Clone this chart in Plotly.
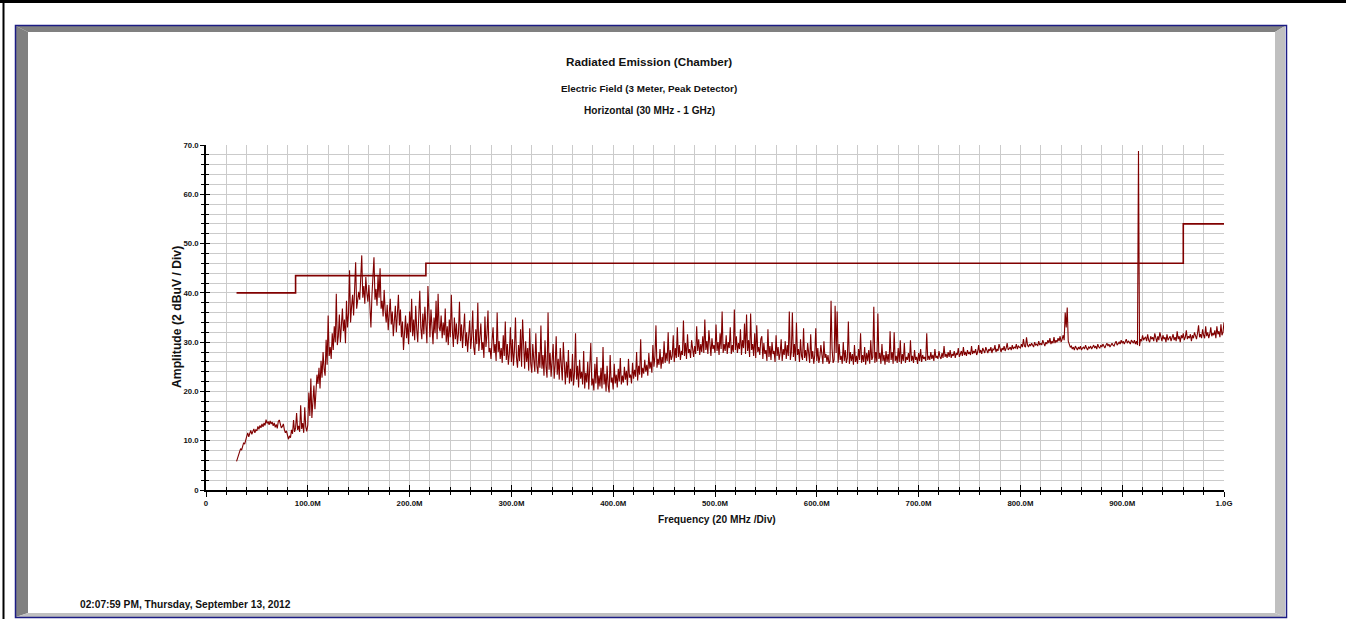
import plotly.graph_objects as go

# ---------------------------------------------------------------------------
# Data
# ---------------------------------------------------------------------------
# Peak-detector sweep, 30 MHz .. 1000 MHz in 1 MHz steps (dBuV/m), 20 MHz per row
sweep_start_mhz = 30
sweep_step_mhz = 1
sweep_level = [
    5.8, 6.6, 7.0, 7.9, 8.4, 8.1, 9.2, 9.6, 9.3, 10.4, 10.9, 11.6, 10.8, 11.5, 12.1, 11.3, 11.8, 12.4, 11.6, 12.2,
    12.0, 12.9, 12.3, 13.1, 12.6, 13.4, 12.8, 13.6, 13.1, 14.3, 13.5, 13.9, 13.2, 14.0, 13.4, 13.8, 13.0, 13.6, 12.7, 13.3,
    12.5, 13.9, 14.2, 13.0, 12.6, 12.9, 13.4, 12.2, 11.6, 12.0, 10.9, 10.3, 11.0, 10.6, 12.2, 11.4, 14.2, 11.8, 12.6, 15.6,
    12.2, 13.0, 11.8, 17.2, 12.4, 13.6, 11.6, 16.8, 12.8, 11.9, 13.2, 19.8, 15.0, 22.6, 14.6, 18.5, 21.2, 16.4, 20.0, 23.4,
    21.5, 24.8, 20.6, 26.2, 22.8, 28.0, 24.6, 23.2, 30.5, 25.4, 35.4, 27.2, 29.0, 26.6, 31.8, 28.4, 33.2, 30.0, 39.8, 29.4,
    31.2, 35.6, 30.0, 33.4, 36.8, 32.2, 34.6, 29.8, 38.4, 33.0, 35.8, 44.6, 34.0, 37.2, 39.6, 35.4, 41.8, 46.2, 36.8, 39.0,
    40.2, 38.6, 42.0, 47.6, 39.0, 41.4, 37.8, 43.2, 40.0, 38.2, 41.6, 36.0, 33.0, 39.4, 42.4, 47.2, 38.6, 40.8, 37.4, 43.6,
    39.0, 45.0, 36.8, 38.4, 35.2, 40.6, 36.4, 34.0, 37.6, 32.4, 35.8, 38.8, 33.6, 36.2, 31.2, 34.8, 37.4, 32.0, 35.0, 39.6,
    33.4, 36.6, 31.0, 34.2, 28.4, 32.6, 35.4, 30.8, 33.8, 29.6, 36.2, 32.0, 38.8, 31.2, 34.6, 30.4, 37.4, 32.6, 30.0, 35.2,
    40.4, 33.0, 30.6, 35.8, 31.6, 37.2, 33.4, 29.8, 41.4, 34.2, 31.0, 36.6, 32.4, 29.6, 35.0, 31.8, 38.4, 30.6, 39.8, 33.0,
    32.2, 35.4, 30.8, 34.0, 31.4, 36.8, 30.0, 33.2, 29.4, 34.6, 31.0, 39.6, 32.4, 29.0, 35.0, 30.6, 33.8, 29.6, 31.8, 38.2,
    30.2, 33.6, 28.8, 31.4, 35.8, 29.2, 32.0, 28.0, 30.8, 34.4, 28.6, 31.2, 36.4, 29.0, 27.4, 32.6, 29.6, 38.0, 28.2, 30.4,
    33.8, 28.4, 30.0, 26.8, 35.2, 29.0, 31.6, 36.4, 28.0, 28.8, 26.6, 30.4, 33.0, 27.8, 29.6, 26.2, 36.0, 28.0, 30.2, 26.6,
    28.8, 25.8, 31.4, 27.2, 34.2, 26.4, 29.6, 25.4, 27.8, 33.0, 26.0, 30.6, 25.2, 28.4, 35.0, 26.8, 24.8, 29.4, 26.2, 32.6,
    25.0, 34.6, 27.6, 24.6, 30.2, 26.0, 28.8, 24.2, 32.8, 25.6, 23.8, 29.6, 26.4, 24.0, 31.8, 25.2, 23.6, 28.0, 24.8, 33.4,
    24.6, 27.4, 23.2, 30.4, 25.0, 22.8, 36.0, 24.4, 27.8, 23.0, 26.2, 29.6, 22.6, 25.4, 31.2, 23.4, 26.6, 22.4, 28.8, 24.0,
    22.2, 30.0, 23.6, 21.4, 26.0, 22.8, 28.4, 21.6, 24.6, 22.0, 27.6, 21.2, 23.8, 31.8, 22.4, 25.2, 20.8, 26.4, 22.6, 24.0,
    21.4, 28.2, 20.6, 23.8, 21.8, 26.0, 20.4, 24.4, 29.8, 21.2, 22.6, 20.2, 25.6, 21.6, 27.0, 20.4, 23.2, 21.0, 24.8, 20.6,
    29.0, 21.4, 23.6, 20.0, 25.2, 21.2, 19.8, 27.4, 21.8, 22.8, 20.4, 25.6, 21.6, 23.4, 20.8, 24.6, 22.0, 26.8, 21.4, 23.2,
    21.8, 25.0, 22.4, 24.2, 21.2, 26.6, 22.8, 23.4, 21.6, 25.8, 22.6, 24.4, 23.0, 28.0, 22.2, 25.2, 23.4, 30.6, 22.8, 24.8,
    23.6, 26.4, 24.0, 25.4, 23.2, 27.8, 24.6, 26.0, 23.8, 29.4, 25.0, 27.2, 33.4, 24.8, 26.6, 25.4, 28.6, 24.6, 27.0, 25.6,
    30.2, 25.8, 27.8, 26.2, 32.0, 25.6, 28.4, 26.4, 27.2, 31.4, 26.0, 28.8, 26.8, 33.0, 27.0, 29.4, 26.4, 28.2, 27.4, 34.4,
    27.2, 29.8, 26.6, 31.6, 27.8, 28.6, 26.8, 30.4, 28.0, 27.0, 29.2, 27.6, 33.2, 28.2, 30.6, 27.4, 29.6, 28.0, 31.2, 27.8,
    34.6, 28.4, 30.2, 27.6, 32.4, 28.8, 27.2, 30.8, 28.6, 29.4, 27.8, 33.6, 28.2, 30.0, 27.4, 31.8, 28.6, 36.2, 27.8, 29.6,
    28.2, 31.4, 27.6, 30.0, 28.8, 33.0, 27.6, 29.4, 28.0, 36.6, 28.4, 31.2, 27.8, 29.8, 28.6, 32.6, 27.4, 30.4, 28.8, 33.8,
    27.6, 35.6, 28.2, 30.4, 27.0, 35.8, 28.4, 29.6, 27.2, 31.8, 26.8, 33.4, 28.0, 29.0, 27.4, 30.6, 31.2, 26.6, 29.8, 27.6,
    28.4, 26.2, 32.6, 27.0, 29.2, 26.4, 30.0, 27.6, 28.2, 26.0, 31.4, 27.2, 29.0, 26.4, 27.8, 30.6, 26.2, 28.6, 27.4, 30.2,
    26.6, 29.4, 27.2, 36.2, 26.4, 28.0, 36.0, 27.0, 29.6, 26.2, 34.0, 27.4, 28.6, 26.0, 30.6, 27.2, 26.4, 32.8, 26.8, 28.4,
    26.2, 29.8, 27.0, 25.8, 31.6, 26.6, 28.2, 25.6, 27.4, 32.8, 26.2, 28.8, 25.8, 27.0, 29.4, 26.4, 25.6, 30.2, 26.8, 27.6,
    26.0, 27.4, 25.6, 26.2, 38.4, 28.6, 25.8, 26.4, 37.4, 27.8, 36.2, 25.8, 29.6, 26.4, 27.2, 25.6, 30.0, 26.2, 28.4, 25.8,
    26.8, 34.2, 25.6, 28.0, 26.2, 27.6, 25.4, 29.4, 26.0, 27.2, 25.6, 28.6, 26.4, 31.8, 25.8, 27.4, 26.0, 29.0, 25.4, 27.8,
    26.2, 28.4, 25.6, 30.4, 26.4, 27.0, 37.2, 25.8, 28.0, 26.0, 35.8, 26.6, 27.8, 25.6, 29.6, 26.2, 27.4, 25.4, 28.2, 26.0,
    27.6, 25.8, 32.2, 26.4, 28.0, 25.6, 32.0, 26.2, 27.2, 25.8, 28.8, 26.0, 30.4, 25.6, 27.6, 26.2, 29.8, 25.8, 27.0, 26.4,
    27.8, 26.0, 30.4, 26.2, 27.2, 25.8, 28.4, 26.4, 27.0, 25.6, 27.8, 26.2, 28.6, 26.0, 27.4, 26.6, 27.0, 26.2, 31.8, 26.4,
    27.2, 26.4, 28.0, 26.6, 27.4, 26.2, 28.6, 26.8, 27.2, 26.6, 28.2, 27.0, 26.6, 27.8, 26.8, 29.2, 27.0, 27.6, 26.8, 28.0,
    27.0, 28.4, 26.8, 27.6, 27.2, 28.2, 26.8, 27.8, 27.4, 28.8, 27.0, 27.6, 28.2, 27.2, 29.0, 27.4, 28.0, 27.2, 28.4, 27.6,
    28.0, 27.4, 29.2, 27.6, 28.2, 27.8, 28.6, 27.4, 28.0, 29.4, 27.8, 28.4, 27.6, 28.8, 28.0, 27.8, 29.0, 28.2, 27.8, 28.6,
    28.2, 29.0, 27.8, 28.6, 28.4, 29.4, 28.0, 28.6, 28.2, 29.6, 28.4, 28.0, 28.8, 28.4, 29.2, 28.2, 28.8, 29.8, 28.4, 28.8,
    29.0, 28.4, 29.4, 28.6, 29.0, 28.8, 29.6, 28.6, 29.2, 29.0, 28.8, 29.6, 29.0, 30.6, 29.2, 29.0, 31.0, 29.4, 29.0, 29.6,
    29.2, 29.8, 29.4, 29.0, 30.0, 29.4, 29.6, 29.2, 30.2, 29.4, 29.8, 29.4, 30.4, 29.6, 29.2, 30.0, 29.6, 30.4, 29.8, 30.8,
    29.6, 30.2, 29.8, 31.0, 29.8, 30.4, 30.0, 30.8, 30.2, 31.2, 30.0, 30.6, 31.4, 30.4, 36.0, 33.0, 37.0, 30.2, 29.4, 29.0,
    29.2, 28.6, 29.0, 28.4, 29.2, 28.8, 28.4, 29.0, 28.6, 29.2, 28.4, 28.8, 29.0, 28.6, 29.4, 28.8, 28.4, 29.0, 28.8, 29.2,
    28.6, 29.0, 29.4, 28.8, 29.2, 28.6, 29.6, 29.0, 28.8, 29.4, 29.0, 29.6, 29.2, 28.8, 29.4, 29.8, 29.2, 29.6, 29.0, 29.4,
    29.8, 29.4, 29.2, 29.8, 30.2, 29.4, 29.8, 30.0, 29.6, 30.4, 29.8, 30.2, 29.6, 30.0, 30.6, 29.8, 30.2, 30.0, 29.6, 30.4,
    30.0, 29.8, 30.4, 29.6, 30.2, 29.4, 68.8, 29.2, 30.6, 30.2, 31.4, 30.4, 30.8, 31.0, 30.2, 31.6, 30.4, 30.0, 31.2, 30.6,
    31.0, 30.2, 31.8, 30.6, 30.0, 31.2, 30.4, 32.0, 30.8, 30.2, 31.4, 30.6, 31.0, 30.0, 31.6, 30.4, 30.8, 31.2, 30.2, 30.8,
    31.6, 30.4, 31.0, 30.2, 32.2, 30.6, 31.2, 30.0, 31.4, 30.8, 31.8, 30.4, 31.0, 32.4, 30.6, 31.2, 30.8, 31.6, 30.2, 31.4,
    30.8, 32.0, 31.2, 30.6, 31.8, 33.4, 31.0, 31.6, 30.8, 32.6, 31.4, 30.8, 33.2, 31.2, 32.0, 30.8, 31.6, 33.0, 31.2, 31.8,
    31.4, 32.4, 30.8, 33.2, 31.6, 32.2, 31.0, 33.6, 31.4, 32.0, 34.0,
]
sweep_freq = [sweep_start_mhz + sweep_step_mhz * i for i in range(len(sweep_level))]

# Class B limit at 3 m (stepped)
limit_freq = [30, 88, 216, 960, 1000]
limit_level = [40.0, 43.5, 46.0, 54.0, 54.0]

# Axis ticks
x_tick_vals = [0, 100, 200, 300, 400, 500, 600, 700, 800, 900, 1000]
x_tick_text = ["0", "100.0M", "200.0M", "300.0M", "400.0M", "500.0M",
               "600.0M", "700.0M", "800.0M", "900.0M", "1.0G"]
y_tick_vals = [0, 10, 20, 30, 40, 50, 60, 70]
y_tick_text = ["0", "10.0", "20.0", "30.0", "40.0", "50.0", "60.0", "70.0"]

# ---------------------------------------------------------------------------
# Geometry helpers (page pixels -> paper coordinates)
# ---------------------------------------------------------------------------
W, H = 1346, 619
PL, PR, PT, PB = 206, 1224, 145, 490


def fx(px):
    return (px - PL) / (PR - PL)


def fy(py):
    return (PB - py) / (PB - PT)


def poly(points):
    return "M " + " L ".join(f"{fx(x):.5f},{fy(y):.5f}" for x, y in points) + " Z"


FONT = "Liberation Sans, Arial, Helvetica, sans-serif"
TRACE = "#800000"
GRID = "#cbcbcb"

fig = go.Figure()

fig.add_trace(go.Scatter(
    x=limit_freq, y=limit_level, mode="lines", line_shape="hv",
    line=dict(color=TRACE, width=1.6), hoverinfo="skip", showlegend=False,
))
fig.add_trace(go.Scatter(
    x=sweep_freq, y=sweep_level, mode="lines",
    line=dict(color=TRACE, width=1.1), showlegend=False,
))
# companions for the overlay axes that draw the inner half of each tick
fig.add_trace(go.Scatter(x=[], y=[], xaxis="x2", yaxis="y", showlegend=False))
fig.add_trace(go.Scatter(x=[], y=[], xaxis="x", yaxis="y2", showlegend=False))

tick_font = dict(family=FONT, size=7.8, color="#111", weight="bold")

fig.update_layout(
    width=W, height=H,
    margin=dict(l=PL, r=W - PR, t=PT, b=H - PB),
    paper_bgcolor="white", plot_bgcolor="white",
    xaxis=dict(
        range=[0, 1000], tickmode="array", tickvals=x_tick_vals, ticktext=x_tick_text,
        ticks="outside", ticklen=5, tickwidth=1.2, tickcolor="black",
        tickfont=tick_font, showline=True, linecolor="black", linewidth=1.5,
        showgrid=True, gridcolor=GRID, gridwidth=1.4, zeroline=False,
        minor=dict(tickmode="linear", tick0=0, dtick=20, ticks="outside", ticklen=3,
                   tickcolor="black", tickwidth=1, showgrid=True,
                   gridcolor=GRID, gridwidth=1.4),
        fixedrange=True,
    ),
    yaxis=dict(
        range=[0, 70], tickmode="array", tickvals=y_tick_vals, ticktext=y_tick_text,
        ticks="outside", ticklen=4, tickwidth=1.2, tickcolor="black",
        tickfont=tick_font, showline=True, linecolor="black", linewidth=1.5,
        showgrid=True, gridcolor=GRID, gridwidth=1.4, zeroline=False,
        minor=dict(tickmode="linear", tick0=0, dtick=2, ticks="outside", ticklen=3,
                   tickcolor="black", tickwidth=1, showgrid=True,
                   gridcolor=GRID, gridwidth=1.4),
        fixedrange=True,
    ),
    xaxis2=dict(
        range=[0, 1000], overlaying="x", anchor="y", side="bottom",
        tickmode="array", tickvals=x_tick_vals, ticks="inside", ticklen=5,
        tickwidth=1.2, tickcolor="black", showticklabels=False,
        showgrid=False, zeroline=False, showline=False,
        minor=dict(tickmode="linear", tick0=0, dtick=20, ticks="inside", ticklen=3,
                   tickcolor="black", tickwidth=1, showgrid=False),
        fixedrange=True,
    ),
    yaxis2=dict(
        range=[0, 70], overlaying="y", anchor="x", side="left",
        tickmode="array", tickvals=y_tick_vals, ticks="inside", ticklen=4,
        tickwidth=1.2, tickcolor="black", showticklabels=False,
        showgrid=False, zeroline=False, showline=False,
        minor=dict(tickmode="linear", tick0=0, dtick=2, ticks="inside", ticklen=3,
                   tickcolor="black", tickwidth=1, showgrid=False),
        fixedrange=True,
    ),
)

# Framing: outer border and bevelled panel
shapes = [
    dict(type="line", x0=fx(0), x1=fx(W), y0=fy(1.5), y1=fy(1.5),
         line=dict(color="black", width=3)),
    dict(type="line", x0=fx(3.5), x1=fx(3.5), y0=fy(0), y1=fy(H),
         line=dict(color="black", width=2)),
    dict(type="path", path=poly([(16, 26), (1285, 26), (1275, 32), (28, 32)]),
         fillcolor="#808080", line=dict(width=0)),
    dict(type="path", path=poly([(16, 26), (28, 32), (28, 613), (16, 617)]),
         fillcolor="#808080", line=dict(width=0)),
    dict(type="path", path=poly([(1285, 26), (1285, 617), (1275, 613), (1275, 32)]),
         fillcolor="#c0c0c0", line=dict(width=0)),
    dict(type="path", path=poly([(16, 617), (28, 613), (1275, 613), (1285, 617)]),
         fillcolor="#c0c0c0", line=dict(width=0)),
    dict(type="rect", x0=fx(15.5), x1=fx(1286.5), y0=fy(25.5), y1=fy(617.5),
         line=dict(color="#1c1c84", width=1.5)),
]
for s in shapes:
    s.update(xref="paper", yref="paper", layer="below")
fig.update_layout(shapes=shapes)

# Titles and captions
cx = fx(649)
notes = [
    dict(text="Radiated Emission (Chamber)", x=cx, y=fy(61), size=11.7),
    dict(text="Electric Field (3 Meter, Peak Detector)", x=cx, y=fy(88), size=9.9),
    dict(text="Horizontal (30 MHz - 1 GHz)", x=cx, y=fy(110), size=10.1),
    dict(text="Frequency (20 MHz /Div)", x=fx(717), y=fy(519), size=10.2),
    dict(text="Amplitude (2 dBuV / Div)", x=fx(177), y=fy(317), size=12.2,
         textangle=-90),
    dict(text="02:07:59 PM, Thursday, September 13, 2012", x=fx(78), y=fy(604),
         size=10.2, xanchor="left"),
]
for n in notes:
    size = n.pop("size")
    n.setdefault("xanchor", "center")
    fig.add_annotation(xref="paper", yref="paper", yanchor="middle",
                       showarrow=False,
                       font=dict(family=FONT, size=size, color="#111", weight="bold"),
                       **n)

fig.write_html("out.html")
